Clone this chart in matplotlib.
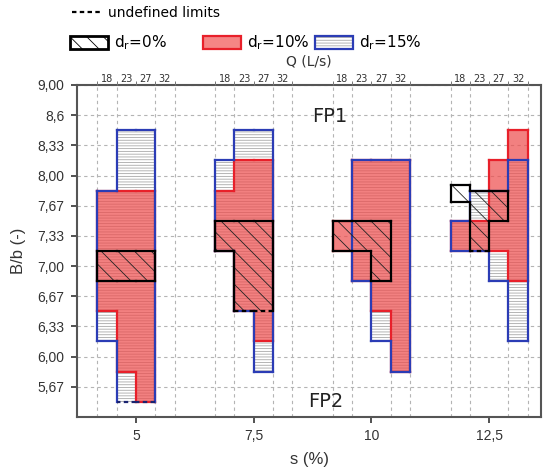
import matplotlib
matplotlib.use('Agg')
import matplotlib.pyplot as plt
from matplotlib.patches import Polygon, Patch
from matplotlib.collections import LineCollection
from matplotlib.lines import Line2D

# ---------------- data ----------------
s_values = [5, 7.5, 10, 12.5]
s_labels = ['5', '7,5', '10', '12,5']
q_labels = ['18', '23', '27', '32']
bb_ticks = [9.0, 8.667, 8.333, 8.0, 7.667, 7.333, 7.0, 6.667, 6.333, 6.0, 5.667]
bb_labels = ['9,00', '8,6', '8,33', '8,00', '7,67', '7,33', '7,00', '6,67', '6,33', '6,00', '5,67']

N = None
# rows: s = 5, 7.5, 10, 12.5 ; columns: Q = 18, 23, 27, 32 (L/s)
dr0_lo = [[6.83, 6.83, 6.83, N], [7.17, 6.50, 6.50, N], [7.17, 7.17, 6.83, N], [7.71, 7.17, 7.50, N]]
dr0_hi = [[7.17, 7.17, 7.17, N], [7.50, 7.50, 7.50, N], [7.50, 7.50, 7.50, N], [7.90, 7.83, 7.83, N]]
dr10_lo = [[6.50, 5.83, 5.50, N], [7.17, 6.50, 6.17, N], [7.17, 6.83, 6.50, 5.83], [7.17, 7.17, 7.17, 6.83]]
dr10_hi = [[7.83, 7.83, 7.83, N], [7.83, 8.17, 8.17, N], [7.50, 8.17, 8.17, 8.17], [7.50, 7.50, 8.17, 8.50]]
dr15_lo = [[6.17, 5.50, 5.50, N], [7.17, 6.50, 5.83, N], [N, 6.83, 6.17, 5.83], [7.17, 7.17, 6.83, 6.17]]
dr15_hi = [[7.83, 8.50, 8.50, N], [8.17, 8.50, 8.50, N], [N, 8.17, 8.17, 8.17], [7.50, 7.83, 7.83, 8.17]]
# (s index, Q index) whose lower limit is undefined
dr0_undefined = [(1, 1), (1, 2), (3, 1)]
dr10_undefined = []
dr15_undefined = [(0, 1), (0, 2)]

# ---------------- style ----------------
W = 0.41
BLUE = '#2b3cb5'
RED_E = '#e8202a'
RED_F = '#ee4f4f'
HATCH_GRAY = '#a8a8a8'
GRID = '#b4b4b4'
plt.rcParams['hatch.linewidth'] = 0.6

fig = plt.figure(figsize=(5.48, 4.70), dpi=100)
ax = fig.add_axes([77 / 548, 1 - 417 / 470, (541 - 77) / 548, (417 - 85) / 470])
ax.set_xlim(3.75, 13.6)
ax.set_ylim(5.333, 9.0)


def col_x(si, j):
    return s_values[si] + (j - 2) * W


def shape(si, lo, hi, undefined):
    cols = [j for j in range(4) if lo[j] is not None]
    top, bot, bot_cols = [], [], []
    for j in cols:
        top += [(col_x(si, j), hi[j]), (col_x(si, j + 1), hi[j])]
    for j in reversed(cols):
        bot += [(col_x(si, j + 1), lo[j]), (col_x(si, j), lo[j])]
        bot_cols.append(j)
    verts = top + bot
    n = len(verts)
    solid, dashed = [], []
    for k in range(n):
        seg = [verts[k], verts[(k + 1) % n]]
        kb = k - len(top)
        if kb >= 0 and kb % 2 == 0 and (si, bot_cols[kb // 2]) in undefined:
            dashed.append(seg)
        else:
            solid.append(seg)
    return verts, solid, dashed


def draw(lo_rows, hi_rows, undefined, face, hatch, hatchcolor, edge, zf, ze, dash_color):
    for si in range(len(s_values)):
        verts, solid, dashed = shape(si, lo_rows[si], hi_rows[si], undefined)
        p = Polygon(verts, closed=True, facecolor=face if face else 'none',
                    edgecolor=hatchcolor, lw=0, hatch=hatch, zorder=zf)
        ax.add_patch(p)
        ax.add_collection(LineCollection(solid, colors=edge, linewidths=1.6,
                                         capstyle='projecting', zorder=ze))
        if dashed:
            ax.add_collection(LineCollection(dashed, colors=dash_color, linewidths=1.6,
                                             linestyles=[(0, (2.0, 1.5))], zorder=ze + 0.5))


# d_r = 15 %  (white with grey horizontal hatch)
draw(dr15_lo, dr15_hi, dr15_undefined, 'white', '------', HATCH_GRAY, BLUE, 2, 5, '#1a2470')
# d_r = 10 %  (red, semi transparent)
for si in range(len(s_values)):
    verts, solid, dashed = shape(si, dr10_lo[si], dr10_hi[si], dr10_undefined)
    ax.add_patch(Polygon(verts, closed=True, facecolor=RED_F, alpha=0.72, lw=0, zorder=3))
    ax.add_collection(LineCollection(solid, colors=RED_E, linewidths=1.6,
                                     capstyle='projecting', zorder=4))
# d_r = 0 %  (transparent with black diagonal hatch)
draw(dr0_lo, dr0_hi, dr0_undefined, None, '\\\\', '#222222', 'black', 6, 7, 'black')

# ---------------- axes ----------------
bounds = [col_x(si, j) for si in range(4) for j in range(5)]
centers = [col_x(si, j) + W / 2 for si in range(4) for j in range(4)]

ax.set_xticks(s_values)
ax.set_xticklabels(s_labels, fontsize=10, family='Liberation Sans')
ax.set_xticks(bounds, minor=True)
ax.set_yticks(bb_ticks)
ax.set_yticklabels(bb_labels, fontsize=10, family='Liberation Sans')
ax.tick_params(axis='x', which='major', length=4, width=1.2, direction='out', pad=5, colors='#333333')
ax.tick_params(axis='x', which='minor', length=0)
ax.tick_params(axis='y', which='major', length=4, width=1.2, direction='out', pad=5, colors='#333333')
ax.tick_params(labelcolor='#333333')
ax.grid(which='minor', axis='x', color=GRID, linestyle=(0, (3, 3)), linewidth=0.8)
ax.grid(which='major', axis='y', color=GRID, linestyle=(0, (3, 3)), linewidth=0.8)
ax.set_axisbelow(True)
for sp in ax.spines.values():
    sp.set_color('#555555')
    sp.set_linewidth(1.5)

ax.set_xlabel('s (%)', fontsize=12, family='Liberation Sans', color='#333333', labelpad=6)
ax.set_ylabel('B/b (-)', fontsize=12, family='Liberation Sans', color='#333333', labelpad=8)

ax2 = ax.twiny()
ax2.set_xlim(ax.get_xlim())
ax2.set_xticks(bounds)
ax2.set_xticklabels([''] * len(bounds))
ax2.set_xticks(centers, minor=True)
ax2.set_xticklabels(q_labels * 4, minor=True, fontsize=7, color='#333333')
ax2.tick_params(axis='x', which='major', length=3, width=0.7, direction='out', colors='#777777')
ax2.tick_params(axis='x', which='minor', length=0, pad=1, labelcolor='#333333')
ax2.set_xlabel('Q (L/s)', fontsize=10, color='#333333', labelpad=6)
for sp in ax2.spines.values():
    sp.set_visible(False)

ax.text(9.12, 8.65, 'FP1', fontsize=14, ha='center', va='center', color='#222222', zorder=10)
ax.text(9.02, 5.5, 'FP2', fontsize=14, ha='center', va='center', color='#222222', zorder=10)

# ---------------- legends ----------------
fs1 = 10
fig.legend(handles=[Line2D([], [], color='black', ls=(0, (2.0, 1.5)), lw=1.6)],
           labels=['undefined limits'], loc='center left',
           bbox_to_anchor=(72 / 548, 1 - 13 / 470), frameon=False, borderpad=0,
           borderaxespad=0, handlelength=31 / (fs1 * 1.389), handletextpad=0.35, fontsize=fs1)

fs2 = 11
h0 = Patch(facecolor='white', edgecolor='black', hatch='\\\\', lw=2)
h10 = Patch(facecolor='#f58585', edgecolor=RED_E, lw=1.6)
h15 = (Patch(facecolor='white', edgecolor=HATCH_GRAY, hatch='------', lw=0),
       Patch(facecolor='none', edgecolor=BLUE, lw=1.6))
for h, lab, x0 in [(h0, 'd$_\\mathregular{r}$=0%', 70), (h10, 'd$_\\mathregular{r}$=10%', 203),
                   (h15, 'd$_\\mathregular{r}$=15%', 315)]:
    fig.legend(handles=[h], labels=[lab], loc='center left',
               bbox_to_anchor=(x0 / 548, 1 - 43 / 470), frameon=False, borderpad=0,
               borderaxespad=0, handlelength=38 / (fs2 * 1.389),
               handleheight=14 / (fs2 * 1.389), handletextpad=0.4, fontsize=fs2)

fig.savefig('out.png', dpi=100)
